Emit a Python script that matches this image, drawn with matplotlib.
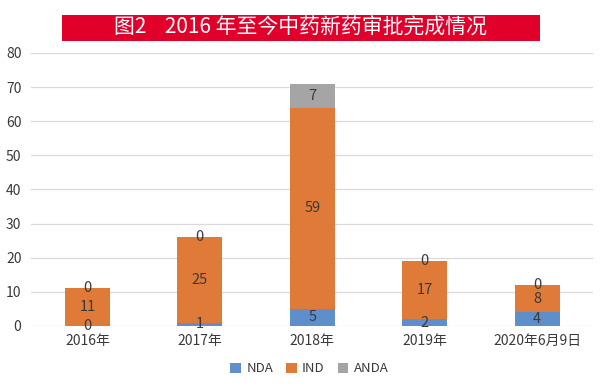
import matplotlib
matplotlib.use("Agg")
import matplotlib.pyplot as plt
from matplotlib.patches import Rectangle
import numpy as np

plt.rcParams["font.family"] = ["Noto Sans CJK SC", "DejaVu Sans"]

categories = ["2016年", "2017年", "2018年", "2019年", "2020年6月9日"]
nda = [0, 1, 5, 2, 4]
ind = [11, 25, 59, 17, 8]
anda = [0, 0, 7, 0, 0]
title = "图2    2016 年至今中药新药审批完成情况"

colors = {"NDA": "#5f8fca", "IND": "#e07a38", "ANDA": "#a5a5a5"}
text_col = "#3a3a3a"

fig = plt.figure(figsize=(6.0, 3.88), dpi=100)
ax = fig.add_axes([0.052, 0.16, 0.937, 0.7036])

x = np.arange(len(categories))
w = 0.4
bottom = np.zeros(len(categories))
for name, vals in [("NDA", nda), ("IND", ind), ("ANDA", anda)]:
    vals = np.array(vals, dtype=float)
    ax.bar(x, vals, w, bottom=bottom, color=colors[name], label=name, zorder=3)
    for xi, b, v in zip(x, bottom, vals):
        ax.text(xi, b + v / 2, f"{int(v)}", ha="center", va="center",
                fontsize=10.5, color=text_col, zorder=4)
    bottom += vals

ax.set_xlim(-0.5, len(categories) - 0.5)
ax.set_ylim(0, 80)
ax.set_yticks(range(0, 81, 10))
ax.set_xticks(x)
ax.set_xticklabels(categories, fontsize=10, color=text_col)
ax.tick_params(axis="y", labelsize=10, labelcolor=text_col, length=0, pad=7)
ax.tick_params(axis="x", length=0, pad=6)
ax.grid(axis="y", color="#d9d9d9", linewidth=0.9, zorder=0)
for s in ax.spines.values():
    s.set_visible(False)

ax.legend(loc="upper center", bbox_to_anchor=(0.495, -0.09), ncol=3, frameon=False,
          fontsize=9.5, handlelength=0.8, handleheight=0.8, columnspacing=1.0,
          handletextpad=0.4, labelcolor=text_col)

# red title banner
fig.patches.append(Rectangle((0.103, 0.894), 0.797, 0.068, transform=fig.transFigure,
                             facecolor="#e0002a", edgecolor="none"))
fig.text(0.5, 0.928, title, ha="center", va="center", fontsize=15, color="white")

fig.savefig("out.png", dpi=100)
